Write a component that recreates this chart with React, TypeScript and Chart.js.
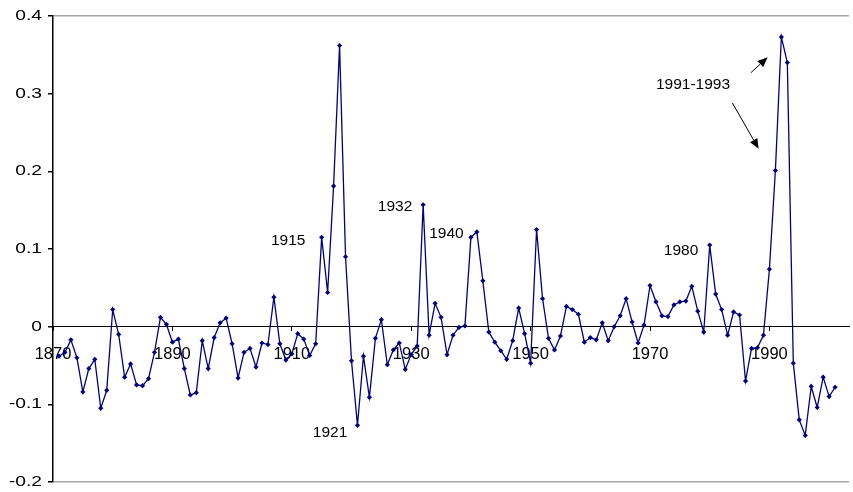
import React, { useEffect, useRef } from "react";
import { Chart, registerables } from "chart.js";

Chart.register(...registerables);

const years = [
  1871, 1872, 1873, 1874, 1875, 1876, 1877, 1878, 1879, 1880,
  1881, 1882, 1883, 1884, 1885, 1886, 1887, 1888, 1889, 1890,
  1891, 1892, 1893, 1894, 1895, 1896, 1897, 1898, 1899, 1900,
  1901, 1902, 1903, 1904, 1905, 1906, 1907, 1908, 1909, 1910,
  1911, 1912, 1913, 1914, 1915, 1916, 1917, 1918, 1919, 1920,
  1921, 1922, 1923, 1924, 1925, 1926, 1927, 1928, 1929, 1930,
  1931, 1932, 1933, 1934, 1935, 1936, 1937, 1938, 1939, 1940,
  1941, 1942, 1943, 1944, 1945, 1946, 1947, 1948, 1949, 1950,
  1951, 1952, 1953, 1954, 1955, 1956, 1957, 1958, 1959, 1960,
  1961, 1962, 1963, 1964, 1965, 1966, 1967, 1968, 1969, 1970,
  1971, 1972, 1973, 1974, 1975, 1976, 1977, 1978, 1979, 1980,
  1981, 1982, 1983, 1984, 1985, 1986, 1987, 1988, 1989, 1990,
  1991, 1992, 1993, 1994, 1995, 1996, 1997, 1998, 1999, 2000,
  2001,
];

const values = [
  -0.038, -0.033, -0.017, -0.040, -0.084, -0.054, -0.042, -0.105, -0.082, 0.022,
  -0.010, -0.065, -0.048, -0.075, -0.076, -0.067, -0.033, 0.012, 0.003, -0.020,
  -0.016, -0.054, -0.088, -0.085, -0.018, -0.054, -0.014, 0.005, 0.011, -0.022,
  -0.066, -0.033, -0.028, -0.052, -0.021, -0.023, 0.038, -0.022, -0.043, -0.035,
  -0.009, -0.016, -0.037, -0.022, 0.115, 0.044, 0.181, 0.362, 0.090, -0.044,
  -0.127, -0.038, -0.091, -0.015, 0.009, -0.049, -0.030, -0.021, -0.055, -0.036,
  -0.025, 0.157, -0.011, 0.030, 0.012, -0.036, -0.011, -0.001, 0.001, 0.115,
  0.122, 0.059, -0.007, -0.020, -0.031, -0.042, -0.018, 0.024, -0.009, -0.047,
  0.125, 0.036, -0.015, -0.030, -0.012, 0.026, 0.022, 0.016, -0.020, -0.014,
  -0.017, 0.005, -0.018, 0.000, 0.014, 0.036, 0.006, -0.021, 0.002, 0.053,
  0.032, 0.014, 0.013, 0.028, 0.032, 0.033, 0.052, 0.020, -0.007, 0.105,
  0.042, 0.022, -0.011, 0.019, 0.015, -0.070, -0.028, -0.027, -0.011, 0.074,
  0.201, 0.373, 0.340, -0.047, -0.120, -0.140, -0.077, -0.104, -0.065, -0.090,
  -0.078,
];

const xTickYears = [1870, 1890, 1910, 1930, 1950, 1970, 1990];
const yTickValues = [-0.2, -0.1, 0, 0.1, 0.2, 0.3, 0.4];

// Annotation texts, anchored in data units (year, value)
const noteTexts = ["1915", "1921", "1932", "1940", "1980", "1991-1993"];
const noteYears = [1909.4, 1916.4, 1927.3, 1935.9, 1975.2, 1977.2];
const noteValues = [0.111, -0.136, 0.154, 0.12, 0.098, 0.311];

// Arrows (start year/value -> end year/value)
const arrowFromYears = [1986.9, 1983.8];
const arrowFromValues = [0.327, 0.288];
const arrowToYears = [1989.7, 1988.2];
const arrowToValues = [0.347, 0.229];

const FONT = "'Liberation Sans', Arial, Helvetica, sans-serif";

// y tick labels: drawn from the y scale's own ticks, slightly widened like the original
const yLabelPlugin = {
  id: "yLabels",
  afterDraw(chart: any) {
    const { ctx } = chart;
    const ys = chart.scales.y;
    ctx.save();
    ctx.fillStyle = "#000";
    ctx.font = `15px ${FONT}`;
    ctx.textAlign = "right";
    ctx.textBaseline = "middle";
    const xRight = ys.right - 5 - 6;
    ys.ticks.forEach((t: any) => {
      const py = ys.getPixelForValue(t.value);
      ctx.save();
      ctx.translate(xRight, py);
      ctx.scale(1.28, 1);
      ctx.fillText(String(t.label), 0, 0);
      ctx.restore();
    });
    ctx.restore();
  },
};

const notesPlugin = {
  id: "notes",
  afterDatasetsDraw(chart: any) {
    const { ctx } = chart;
    const xs = chart.scales.x;
    const ys = chart.scales.y;
    ctx.save();
    ctx.fillStyle = "#000";
    ctx.font = `15.5px ${FONT}`;
    ctx.textAlign = "center";
    ctx.textBaseline = "middle";
    noteTexts.forEach((t, i) => {
      ctx.fillText(t, xs.getPixelForValue(noteYears[i]), ys.getPixelForValue(noteValues[i]));
    });
    ctx.strokeStyle = "#000";
    ctx.lineWidth = 1;
    arrowFromYears.forEach((_, i) => {
      const x1 = xs.getPixelForValue(arrowFromYears[i]);
      const y1 = ys.getPixelForValue(arrowFromValues[i]);
      const x2 = xs.getPixelForValue(arrowToYears[i]);
      const y2 = ys.getPixelForValue(arrowToValues[i]);
      const ang = Math.atan2(y2 - y1, x2 - x1);
      const head = 10;
      const half = 4.2;
      const bx = x2 - head * Math.cos(ang);
      const by = y2 - head * Math.sin(ang);
      ctx.beginPath();
      ctx.moveTo(x1, y1);
      ctx.lineTo(bx, by);
      ctx.stroke();
      ctx.beginPath();
      ctx.moveTo(x2, y2);
      ctx.lineTo(bx + half * Math.sin(ang), by - half * Math.cos(ang));
      ctx.lineTo(bx - half * Math.sin(ang), by + half * Math.cos(ang));
      ctx.closePath();
      ctx.fill();
    });
    ctx.restore();
  },
};

export default function App() {
  const canvasRef = useRef<HTMLCanvasElement | null>(null);

  useEffect(() => {
    if (!canvasRef.current) return;
    Chart.defaults.font.family = FONT;
    const chart = new Chart(canvasRef.current, {
      type: "line",
      data: {
        datasets: [
          {
            data: years.map((yr, i) => ({ x: yr, y: values[i] })),
            borderColor: "#000080",
            backgroundColor: "#000080",
            borderWidth: 1.3,
            pointStyle: "rectRot",
            pointRadius: 2.6,
            pointBorderWidth: 0,
            pointBackgroundColor: "#000080",
            tension: 0,
            fill: false,
          },
        ],
      },
      options: {
        responsive: false,
        animation: false,
        layout: { padding: { top: 16, bottom: 10, left: 0, right: 0 } },
        plugins: { legend: { display: false }, tooltip: { enabled: false } },
        scales: {
          x: {
            type: "linear",
            min: 1870,
            max: 2003.33,
            position: { y: 0 } as any,
            afterBuildTicks: (s: any) => {
              s.ticks = xTickYears.map((v) => ({ value: v }));
            },
            afterFit: (s: any) => {
              s.height = 0;
            },
            ticks: {
              callback: (v: any) => String(v),
              font: { size: 16.5, family: FONT },
              color: "#000",
              padding: 14,
              maxRotation: 0,
              autoSkip: false,
            },
            grid: {
              display: true,
              drawOnChartArea: false,
              tickLength: 4,
              tickColor: "#000",
              tickWidth: 1,
            },
            border: { display: true, color: "#000", width: 1 },
          },
          y: {
            type: "linear",
            min: -0.2,
            max: 0.4,
            afterBuildTicks: (s: any) => {
              s.ticks = yTickValues.map((v) => ({ value: v }));
            },
            afterFit: (s: any) => {
              s.width = 53;
              s.paddingTop = 0;
              s.paddingBottom = 0;
            },
            ticks: {
              callback: (v: any) => String(Math.round(Number(v) * 10) / 10),
              font: { size: 15, family: FONT },
              color: "rgba(0,0,0,0)",
              padding: 6,
            },
            grid: {
              color: (c: any) => {
                const v = c.tick ? c.tick.value : null;
                if (v !== null && (Math.abs(v - 0.4) < 1e-6 || Math.abs(v + 0.2) < 1e-6)) return "#a6a6a6";
                return "rgba(0,0,0,0)";
              },
              tickColor: "#000",
              tickLength: 5,
              lineWidth: 1.5,
            },
            border: { display: true, color: "#000", width: 1.5 },
          },
        },
      },
      plugins: [notesPlugin, yLabelPlugin],
    });
    return () => chart.destroy();
  }, []);

  return (
    <div style={{ position: "absolute", left: 0, top: 0, width: 853, height: 492 }}>
      <canvas ref={canvasRef} width={853} height={492} style={{ display: "block" }} />
    </div>
  );
}
